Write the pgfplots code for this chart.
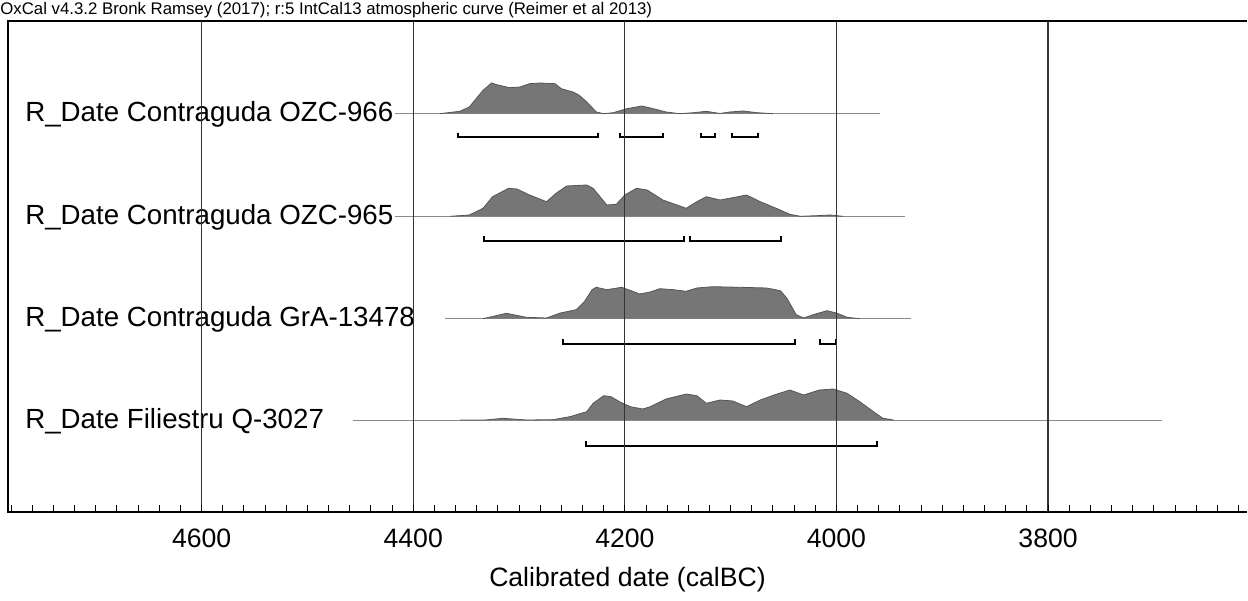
\documentclass[border=0pt]{standalone}
\usepackage{pgfplots}
\pgfplotsset{compat=1.18}
\usepackage{fontspec}
\setmainfont{Liberation Sans}

\definecolor{densfill}{RGB}{118,118,118}
\definecolor{densline}{RGB}{85,85,85}
\definecolor{baseln}{RGB}{140,140,140}

\begin{document}
\begin{tikzpicture}
\begin{axis}[
    scale only axis,
    width=619.5pt, height=245.5pt,
    x dir=reverse,
    xmin=3612, xmax=4783,
    ymin=0, ymax=491,
    xtick={3800,4000,4200,4400,4600},
    minor xtick={3620,3640,...,4780},
    ytick=\empty,
    xtick pos=bottom,
    tick align=inside,
    major tick length=0pt,
    minor tick length=3.5pt,
    xmajorgrids=true,
    major grid style={black!80, line width=0.6pt},
    minor tick style={black, line width=0.5pt},
    axis line style={draw=none},
    axis on top,
    /pgf/number format/assume math mode=true,
    /pgf/number format/set thousands separator={},
    xticklabel style={font=\fontsize{13.3}{15}\selectfont, yshift=-5pt},
    xlabel={Calibrated date (calBC)},
    xlabel style={font=\fontsize{13.3}{15}\selectfont, yshift=-3pt},
    clip=false,
]

% row 1: OZC-966
\addplot[baseln, line width=0.5pt] coordinates {(4417,398.3) (3959,398.3)};
\addplot[fill=densfill, draw=densline, line width=0.4pt] coordinates {
  (4375,398.3) (4356,400.7) (4347,405) (4334,421.7) (4326,429) (4321,427.3)
  (4309,424.3) (4299,425) (4290,428.3) (4280,429) (4266,428.3) (4260,423.3)
  (4249,420) (4243,416.7) (4236,410) (4227,400) (4220,398.3) (4211,399.3)
  (4198,403.3) (4184,406) (4173,403.3) (4161,400) (4148,398.3) (4135,399.3)
  (4123,400.7) (4110,398.5) (4101,400) (4088,401) (4075,399.3) (4060,398.3)
};
\addplot[black, line width=1pt] coordinates {(4358,379) (4358,375) (4225,375) (4225,379)};
\addplot[black, line width=1pt] coordinates {(4205,379) (4205,375) (4164,375) (4164,379)};
\addplot[black, line width=1pt] coordinates {(4128,379) (4128,375) (4115,375) (4115,379)};
\addplot[black, line width=1pt] coordinates {(4099,379) (4099,375) (4074,375) (4074,379)};

% row 2: OZC-965
\addplot[baseln, line width=0.5pt] coordinates {(4417,295.7) (3935,295.7)};
\addplot[fill=densfill, draw=densline, line width=0.4pt] coordinates {
  (4365,295.7) (4347,297) (4334,303.7) (4325,315.3) (4310,323.7) (4302,323)
  (4290,317) (4274,310.3) (4265,318.7) (4255,326) (4236,327) (4230,323.7)
  (4217,307) (4208,307.7) (4200,317) (4189,323.7) (4179,322) (4164,312)
  (4142,303.7) (4132,310.3) (4123,315.3) (4110,312) (4098,314.3) (4085,317)
  (4072,310.3) (4057,303.7) (4044,297.7) (4034,295.7) (4019,296.3) (4006,297)
  (3994,295.7)
};
\addplot[black, line width=1pt] coordinates {(4333,276) (4333,271.3) (4144,271.3) (4144,276)};
\addplot[black, line width=1pt] coordinates {(4138,276) (4138,271.3) (4052,271.3) (4052,276)};

% row 3: GrA-13478
\addplot[baseln, line width=0.5pt] coordinates {(4370,193.3) (3930,193.3)};
\addplot[fill=densfill, draw=densline, line width=0.4pt] coordinates {
  (4334,193.3) (4312,198.7) (4293,194.7) (4274,194) (4261,199) (4246,202.3)
  (4238,210.7) (4231,222.3) (4227,224.7) (4217,222.3) (4203,224.7) (4194,221.3)
  (4186,218) (4176,220) (4167,223.3) (4154,222.3) (4142,220.7) (4132,224)
  (4117,225.3) (4091,224.7) (4066,224) (4053,221.3) (4047,214) (4038,197.3)
  (4031,194) (4022,197.3) (4009,201.3) (4000,199) (3990,194.7) (3978,193.3)
};
\addplot[black, line width=1pt] coordinates {(4258,173) (4258,168.3) (4039,168.3) (4039,173)};
\addplot[black, line width=1pt] coordinates {(4016,173) (4016,168.3) (4000,168.3) (4000,173)};

% row 4: Filiestru Q-3027
\addplot[baseln, line width=0.5pt] coordinates {(4457,92) (3692,92)};
\addplot[fill=densfill, draw=densline, line width=0.4pt] coordinates {
  (4356,92) (4332,92) (4315,93.7) (4293,92) (4268,92.3) (4252,95.3) (4236,100.3)
  (4230,108.7) (4220,116.3) (4213,115.3) (4205,110.3) (4195,105.3) (4183,103)
  (4176,105.3) (4161,113) (4142,118) (4132,116.3) (4123,108.7) (4110,112)
  (4098,111) (4085,105.3) (4072,112) (4057,117.7) (4044,122) (4031,117)
  (4016,122) (4003,123) (3990,118.7) (3978,110.3) (3965,100.3) (3956,93.7)
  (3946,92)
};
\addplot[black, line width=1pt] coordinates {(4237,71) (4237,66) (3962,66) (3962,71)};

% frame (left, top, bottom)
\draw[black, line width=0.8pt] (rel axis cs:1,1) -- (rel axis cs:0,1) -- (rel axis cs:0,0) -- (rel axis cs:1,0);

% row labels
\node[anchor=base west, font=\fontsize{13.85}{16}\selectfont, inner sep=0pt] at (axis cs:4767,390.3) {R\_Date Contraguda OZC-966};
\node[anchor=base west, font=\fontsize{13.85}{16}\selectfont, inner sep=0pt] at (axis cs:4767,287.7) {R\_Date Contraguda OZC-965};
\node[anchor=base west, font=\fontsize{13.85}{16}\selectfont, inner sep=0pt] at (axis cs:4767,185.3) {R\_Date Contraguda GrA-13478};
\node[anchor=base west, font=\fontsize{13.85}{16}\selectfont, inner sep=0pt] at (axis cs:4767,84) {R\_Date Filiestru Q-3027};

% header
\node[anchor=base west, font=\fontsize{8.4}{10}\selectfont, inner sep=0pt, xshift=-4pt, yshift=3pt] at (rel axis cs:0,1) {OxCal v4.3.2 Bronk Ramsey (2017); r:5 IntCal13 atmospheric curve (Reimer et al 2013)};

\coordinate (BL) at (rel axis cs:0,0);
\coordinate (TR) at (rel axis cs:1,1);
\end{axis}
\pgfresetboundingbox
\path ([shift={(-4pt,-44pt)}]BL) rectangle ([shift={(0.5pt,10.5pt)}]TR);
\end{tikzpicture}
\end{document}
